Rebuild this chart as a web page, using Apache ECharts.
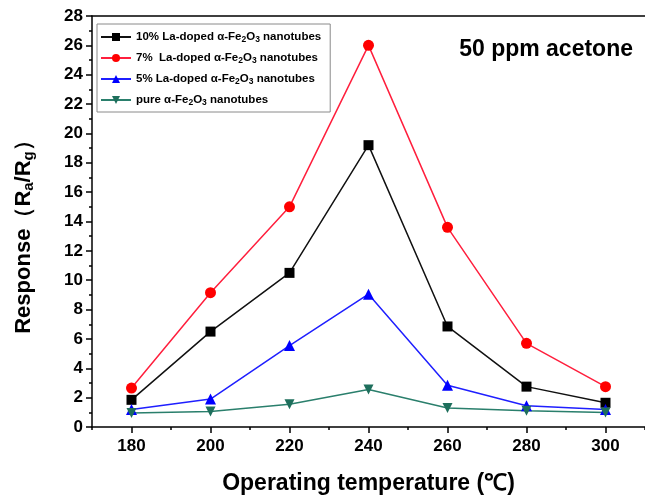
<!DOCTYPE html>
<html>
<head>
<meta charset="utf-8">
<script src="https://cdn.jsdelivr.net/npm/echarts@6/dist/echarts.min.js"></script>
<style>html,body{margin:0;padding:0;background:#fff}#c{width:645px;height:500px}</style>
</head>
<body>
<div id="c"></div>
<script>
var temperatures = [180, 200, 220, 240, 260, 280, 300];
var la10 = [1.85, 6.5, 10.5, 19.2, 6.85, 2.75, 1.65];
var la7 = [2.65, 9.15, 15.0, 26.0, 13.6, 5.7, 2.75];
var la5 = [1.2, 1.9, 5.55, 9.05, 2.85, 1.45, 1.2];
var pure = [0.95, 1.05, 1.55, 2.55, 1.3, 1.1, 0.98];
var xTickLabels = [180, 200, 220, 240, 260, 280, 300];
var xMinorTicks = [170, 190, 210, 230, 250, 270, 290, 310];
var seriesNames = ['10% La-doped α-Fe{s|2}O{s|3} nanotubes', '7%  La-doped α-Fe{s|2}O{s|3} nanotubes', '5% La-doped α-Fe{s|2}O{s|3} nanotubes', 'pure α-Fe{s|2}O{s|3} nanotubes'];

function pairs(v){ return temperatures.map(function(t,i){ return [t, v[i]]; }); }

var font = 'Liberation Sans, Arial, sans-serif';
var chart = echarts.init(document.getElementById('c'), null, {renderer:'canvas'});
var mk = function(name, data, color, lineColor, symbol, size, rot){
  return {
    name: name, type: 'line', data: pairs(data), xAxisIndex: 0, yAxisIndex: 0,
    symbol: symbol, symbolSize: size, symbolRotate: rot || 0,
    itemStyle: {color: color}, lineStyle: {color: lineColor, width: 1.5},
    emphasis: {disabled: true}, z: 3
  };
};
chart.setOption({
  animation: false,
  backgroundColor: '#fff',
  title: {
    text: '50 ppm acetone', right: 7, top: 33,
    textStyle: {fontFamily: font, fontSize: 23, fontWeight: 'bold', color: '#000'}
  },
  legend: {
    orient: 'vertical', left: 97, top: 24,
    padding: [6, 9, 5, 3],
    backgroundColor: '#fff', borderColor: '#8a8a8a', borderWidth: 1,
    itemWidth: 30, itemHeight: 10, itemGap: 7,
    data: seriesNames,
    formatter: function(n){ return n; },
    textStyle: {
      fontFamily: font, fontSize: 11.5, fontWeight: 'bold', color: '#000', lineHeight: 14,
      rich: {
        s: {fontFamily: font, fontSize: 8.5, fontWeight: 'bold', color: '#000', lineHeight: 14, padding: [5, 0, 0, 0]}
      }
    }
  },
  grid: {left: 92, top: 16, width: 556, height: 415, containLabel: false},
  xAxis: [{
    type: 'value', min: 170, max: 310, interval: 10, position: 'bottom',
    name: 'Operating temperature (℃)', nameLocation: 'middle', nameGap: 45,
    nameTextStyle: {fontFamily: font, fontSize: 23, fontWeight: 'bold', color: '#000'},
    axisLine: {show: true, lineStyle: {color: '#000', width: 1.5}},
    axisTick: {show: true, inside: false, length: 6, customValues: xTickLabels, lineStyle: {color: '#000', width: 1.5}},
    axisLabel: {show: true, customValues: xTickLabels, margin: 11, fontFamily: font, fontSize: 17, fontWeight: 'bold', color: '#000'},
    splitLine: {show: false}
  }, {
    type: 'value', min: 170, max: 310, interval: 10, position: 'bottom',
    axisLine: {show: false},
    axisTick: {show: true, length: 3, customValues: xMinorTicks, lineStyle: {color: '#000', width: 1.5}},
    axisLabel: {show: false}, splitLine: {show: false}
  }, {
    type: 'value', min: 170, max: 310, interval: 10, position: 'top',
    axisLine: {show: true, lineStyle: {color: '#000', width: 1.5}},
    axisTick: {show: false}, axisLabel: {show: false}, splitLine: {show: false}
  }],
  yAxis: [{
    type: 'value', min: 0, max: 28, interval: 2, position: 'left',
    name: '{n|Response（R}{s|a}{n|/R}{s|g}{n|）}', nameLocation: 'middle', nameGap: 54, nameRotate: 90,
    nameTextStyle: {
      padding: [0, 20, 0, 0],
      rich: {
        n: {fontFamily: font, fontSize: 22, fontWeight: 'bold', color: '#000', lineHeight: 28},
        s: {fontFamily: font, fontSize: 15, fontWeight: 'bold', color: '#000', lineHeight: 28, padding: [10, 0, 0, 0]}
      }
    },
    axisLine: {show: true, lineStyle: {color: '#000', width: 1.5}},
    axisTick: {show: true, inside: false, length: 6, lineStyle: {color: '#000', width: 1.5}},
    minorTick: {show: true, splitNumber: 2, length: 3, lineStyle: {color: '#000', width: 1.5}},
    axisLabel: {margin: 9, fontFamily: font, fontSize: 17, fontWeight: 'bold', color: '#000'},
    splitLine: {show: false}
  }, {
    type: 'value', min: 0, max: 28, interval: 2, position: 'right',
    axisLine: {show: false},
    axisTick: {show: false}, axisLabel: {show: false}, splitLine: {show: false}
  }],
  series: [
    mk(seriesNames[0], la10, '#000000', '#111111', 'rect', 10),
    mk(seriesNames[1], la7, '#ff0000', '#ff1f3d', 'circle', 11),
    mk(seriesNames[2], la5, '#0000ff', '#1f1fff', 'triangle', 11),
    mk(seriesNames[3], pure, '#1e6f5c', '#2a7f6c', 'triangle', 10, 180)
  ]
});
</script>
</body>
</html>
